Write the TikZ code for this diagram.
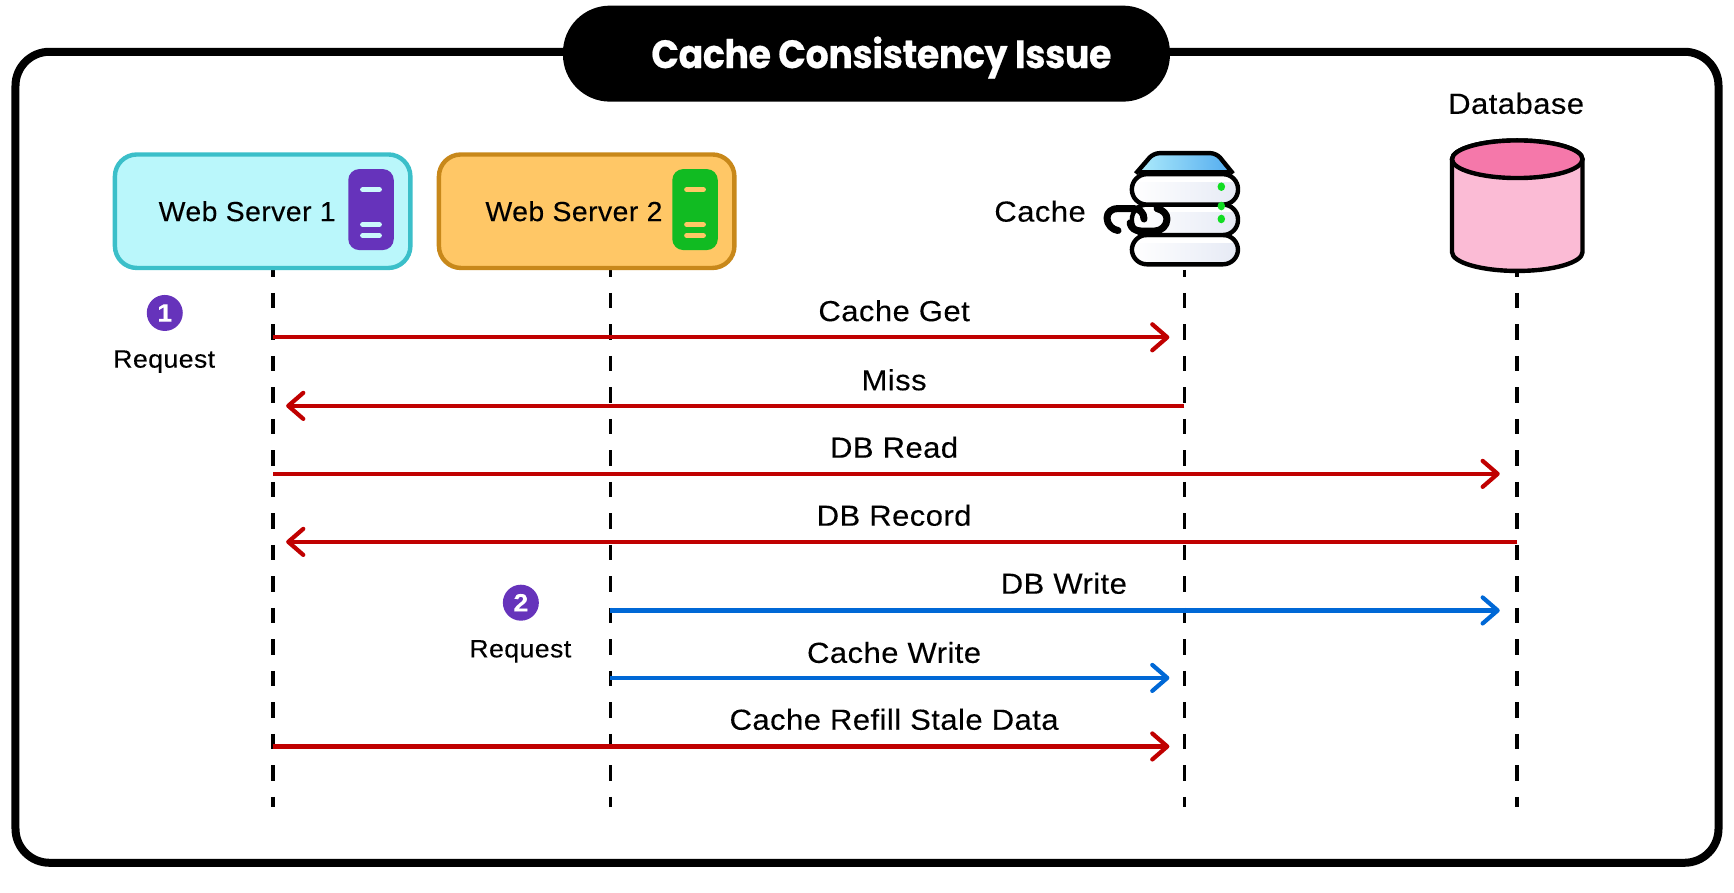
\documentclass[tikz,border=0pt]{standalone}
\usepackage{fontspec}
\usetikzlibrary{arrows.meta,calc}
\setmainfont{Liberation Sans}[LetterSpace=1.5,FakeStretch=1.07,FakeBold=0.15]
\newfontfamily\wsfont{Liberation Sans}[LetterSpace=1.5,FakeStretch=1.03,FakeBold=0.15]
\newfontfamily\titlefont{Poppins}[FakeStretch=0.92,LetterSpace=-1,BoldFeatures={FakeBold=0.5}]
\definecolor{redline}{HTML}{C00000}
\definecolor{blueline}{HTML}{0068D6}
\definecolor{purp}{HTML}{6633BB}
\definecolor{grn}{HTML}{11BB22}
\definecolor{dotgreen}{HTML}{11DD22}
\definecolor{cyanfill}{HTML}{BAF7FB}
\definecolor{cyanedge}{HTML}{3BBFC9}
\definecolor{orfill}{HTML}{FFC766}
\definecolor{oredge}{HTML}{C8881A}
\definecolor{pinkbody}{HTML}{FBBBD5}
\definecolor{pinktop}{HTML}{F578AA}
\definecolor{unitR}{HTML}{E6EAF5}
\definecolor{trapL}{HTML}{ADEBFB}
\definecolor{trapR}{HTML}{55ADEF}
\tikzset{
  lbl/.style={font=\fontsize{29}{31}\selectfont,inner sep=0pt,text=black},
  wslbl/.style={font=\wsfont\fontsize{27.6}{30}\selectfont,inner sep=0pt,text=black},
  small/.style={font=\fontsize{25}{27}\selectfont,inner sep=0pt,text=black},
  wsbox/.style={draw,line width=4.4pt,rounded corners=22pt,minimum width=295.5pt,minimum height=113.5pt,inner sep=0pt},
  iconbox/.style={rounded corners=11pt,minimum width=45.5pt,minimum height=81pt,inner sep=0pt},
  badge/.style={circle,fill=purp,minimum size=36pt,inner sep=0pt,text=white,font=\fontsize{25}{27}\selectfont\bfseries},
  life/.style={line width=3.6pt,draw=black,dash pattern=on 15.5pt off 16pt,dash phase=8.5pt},
  msg/.style={line width=4.2pt,-{Straight Barb[length=15pt,width=26pt,line width=4.2pt,round]}},
  redmsg/.style={msg,draw=redline},
  bluemsg/.style={msg,draw=blueline},
  toCache/.style={shorten >=15pt},
  toDB/.style={shorten >=17.5pt},
  toWeb/.style={shorten >=13pt},
  unit/.style={draw=black,line width=4.4pt,rounded corners=15pt},
}
\newcommand{\iconbars}[3]{%
  \draw[line width=5.2pt,line cap=round,draw=#3] (#1-7.5,#2-19) -- (#1+7.5,#2-19);
  \draw[line width=5.2pt,line cap=round,draw=#3] (#1-7.5,#2+12.5) -- (#1+7.5,#2+12.5);
  \draw[line width=5.2pt,line cap=round,draw=#3] (#1-7.5,#2+22.5) -- (#1+7.5,#2+22.5);
}
\newcommand{\cacheunit}[2]{%
  \begin{scope}
    \clip[rounded corners=15pt] (1023.5,#1) rectangle (1119.5,#2);
    \shade[left color=white,right color=unitR] (1023.5,#1) rectangle (1119.5,#2);
    \fill[white] (1023.5,#1) rectangle (1119.5,#1+7);
  \end{scope}
  \draw[unit] (1023.5,#1) rectangle (1119.5,#2);
}
\begin{document}
\begin{tikzpicture}[x=1.10587pt,y=-1.10587pt]
\useasboundingbox (0,0) rectangle (1568,806.62);
% frame
\node[draw=black,line width=8pt,rounded corners=34pt,minimum width=1703pt,minimum height=811pt,inner sep=0pt] (frame) at (784,413.5) {};
% lifelines
\coordinate (l1t) at (247,244);
\coordinate (l1b) at (247,730);
\coordinate (l2t) at (552,244);
\coordinate (l2b) at (552,730);
\coordinate (l3t) at (1071,244);
\coordinate (l3b) at (1071,730);
\coordinate (l4t) at (1372,244);
\coordinate (l4b) at (1372,730);
\foreach \n in {l1,l2,l3,l4} \draw[life] (\n t) -- (\n b);
% title
\node[fill=black,rounded corners=47pt,minimum width=607pt,minimum height=96pt,inner sep=0pt] (title) at (783.5,48.5) {};
\node[inner sep=0pt,text=white,font=\titlefont\fontsize{39.5}{42}\selectfont\bfseries] (titletext) at (797,52) {Cache Consistency Issue};
% web servers
\node[wsbox,draw=cyanedge,fill=cyanfill] (ws1) at (237.5,191) {};
\node[wslbl] (ws1t) at (223.5,191) {Web Server 1};
\node[iconbox,fill=purp] (ic1) at (335.5,189.5) {};
\iconbars{335.5}{190.5}{cyanfill!75!white}
\node[wsbox,draw=oredge,fill=orfill] (ws2) at (530.5,191) {};
\node[wslbl] (ws2t) at (519,191) {Web Server 2};
\node[iconbox,fill=grn] (ic2) at (628.5,189.5) {};
\iconbars{628.5}{190.5}{orfill}
% cache
\node[lbl] (cachet) at (940.5,191) {Cache};
\fill[left color=trapL,right color=trapR] (1029,155) -- (1044.6,139) -- (1098,139) -- (1112,155) -- cycle;
\draw[line width=4.4pt,line join=round,rounded corners=6pt] (1027,157) -- (1043,138.5) -- (1100,138.5) -- (1115,157);
\draw[line width=4.4pt] (1030,155.5) -- (1112,155.5);
\cacheunit{212.5}{239}
\cacheunit{185}{212.5}
\cacheunit{157.5}{185}
\foreach \y in {168.8,186.3,198} \fill[dotgreen] (1104.4,\y) circle[x radius=3.4,y radius=3.9];
\begin{scope}[x=1pt,y=-1pt,line width=7pt,line cap=round,line join=round]
  \draw (1118,230.5) .. controls (1113,230) and (1107,225) .. (1107,218) .. controls (1107,212) and (1112,208.5) .. (1118,208.5) -- (1133,208.5) .. controls (1140,208.5) and (1144,213) .. (1144,219);
  \draw (1157,208.5) .. controls (1163,210) and (1167,214) .. (1167,219) .. controls (1167,226) and (1161,231) .. (1155,231) -- (1141,231) .. controls (1135,231) and (1131,228) .. (1130,223);
\end{scope}
% database
\node[lbl] (dbt) at (1371,93.5) {Database};
\coordinate (dbc) at (1372,144);
\filldraw[fill=pinkbody,draw=black,line width=4.4pt,line join=round] (1313,144) -- (1313,228) arc[start angle=180,end angle=0,x radius=59,y radius=17] -- (1431,144) arc[start angle=0,end angle=-180,x radius=59,y radius=17] -- cycle;
\filldraw[fill=pinktop,draw=black,line width=4.4pt] (dbc) ellipse[x radius=59,y radius=17];
\draw[line width=3.6pt] (l4t) -- ++(0,6.5);
% badges
\node[badge] (b1) at (149,283) {1};
\node[small] (r1t) at (148.5,327) {Request};
\node[badge] (b2) at (471,545) {2};
\node[small] (r2t) at (470.5,589) {Request};
% rows
\coordinate (r1) at (0,305);
\coordinate (r2) at (0,367);
\coordinate (r3) at (0,428.5);
\coordinate (r4) at (0,490);
\coordinate (r5) at (0,552);
\coordinate (r6) at (0,613);
\coordinate (r7) at (0,675);
\draw[redmsg,toCache] (l1t |- r1) -- (l3t |- r1);
\draw[redmsg,toWeb] (l3t |- r2) -- (l1t |- r2);
\draw[redmsg,toDB] (l1t |- r3) -- (l4t |- r3);
\draw[redmsg,toWeb] (l4t |- r4) -- (l1t |- r4);
\draw[bluemsg,toDB] (l2t |- r5) -- (l4t |- r5);
\draw[bluemsg,toCache] (l2t |- r6) -- (l3t |- r6);
\draw[redmsg,toCache] (l1t |- r7) -- (l3t |- r7);
% labels
\node[lbl] (m1) at (808.5,281) {Cache Get};
\node[lbl] (m2) at (808.5,343.5) {Miss};
\node[lbl] (m3) at (808.5,404.5) {DB Read};
\node[lbl] (m4) at (808.5,466) {DB Record};
\node[lbl] (m5) at (962,527.5) {DB Write};
\node[lbl] (m6) at (808.5,590) {Cache Write};
\node[lbl] (m7) at (808.5,650.5) {Cache Refill Stale Data};
\end{tikzpicture}
\end{document}
